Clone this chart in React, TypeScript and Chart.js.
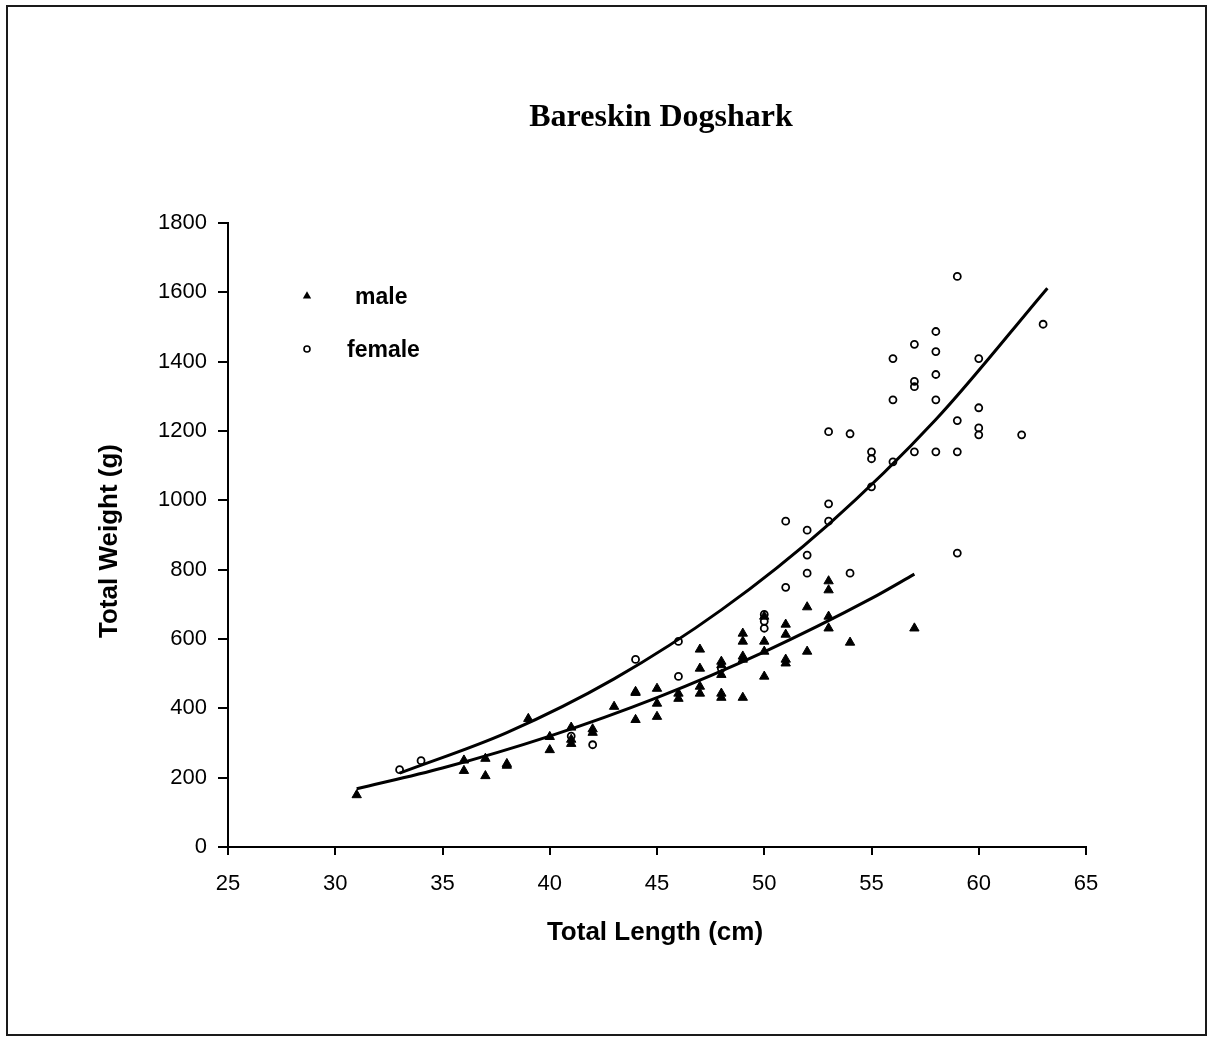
import React, { useEffect, useRef } from "react";
import { Chart, registerables } from "chart.js";

Chart.register(...registerables);

// Scatter data: male (filled triangles)
const maleLength = [31, 36, 36, 37, 37, 38, 38, 39, 40, 40, 41, 41, 41, 42, 42, 43, 44, 44, 44, 45, 45, 45, 46, 46, 47, 47, 47, 47, 48, 48, 48, 48, 48, 49, 49, 49, 49, 49, 50, 50, 50, 50, 51, 51, 51, 51, 52, 52, 53, 53, 53, 53, 54, 57];
const maleWeight = [150, 250, 220, 255, 205, 240, 235, 370, 318, 280, 345, 310, 298, 340, 330, 405, 448, 445, 367, 457, 414, 376, 443, 428, 570, 515, 463, 443, 535, 525, 497, 443, 431, 616, 593, 550, 541, 431, 665, 593, 564, 492, 642, 613, 541, 530, 692, 564, 767, 741, 665, 631, 590, 631];

// Scatter data: female (open circles)
const femaleLength = [33, 34, 41, 42, 44, 46, 46, 48, 50, 50, 50, 51, 51, 52, 52, 52, 53, 53, 53, 54, 54, 55, 55, 55, 56, 56, 56, 57, 57, 57, 57, 58, 58, 58, 58, 58, 59, 59, 59, 59, 60, 60, 60, 60, 62, 63];
const femaleWeight = [223, 249, 320, 295, 541, 593, 492, 515, 671, 651, 631, 940, 749, 914, 842, 790, 1198, 990, 940, 1192, 790, 1140, 1120, 1039, 1409, 1290, 1111, 1450, 1343, 1328, 1140, 1487, 1429, 1363, 1290, 1140, 1646, 1230, 1140, 848, 1409, 1267, 1209, 1189, 1189, 1508];

// Fitted curves
const maleFitLength = [31, 35, 40, 45, 50, 55, 57];
const maleFitWeight = [168, 228, 320, 431, 563, 717, 787];
const femaleFitLength = [33, 38, 43, 48, 53, 58, 63.2];
const femaleFitWeight = [213, 330, 485, 684, 931, 1233, 1612];

const xTicks = [25, 30, 35, 40, 45, 50, 55, 60, 65];
const yTicks = [0, 200, 400, 600, 800, 1000, 1200, 1400, 1600, 1800];

const chartTitle = "Bareskin Dogshark";
const xTitle = "Total Length (cm)";
const yTitle = "Total Weight (g)";
const legendLabels = ["male", "female"];

const toPoints = (xs: number[], ys: number[]) => xs.map((x, i) => ({ x, y: ys[i] }));

const decorPlugin = {
  id: "decor",
  afterDraw(chart: any) {
    const ctx = chart.ctx as CanvasRenderingContext2D;
    ctx.save();
    ctx.fillStyle = "#000";
    ctx.strokeStyle = "#000";
    // Title
    ctx.font = "bold 32px 'Liberation Serif', 'Times New Roman', serif";
    ctx.textAlign = "center";
    ctx.textBaseline = "alphabetic";
    ctx.fillText(chartTitle, 661, 126);
    // X axis title
    ctx.font = "bold 26px 'Liberation Sans', Arial, sans-serif";
    ctx.textBaseline = "middle";
    ctx.fillText(xTitle, 655, 933);
    // Y axis title
    ctx.save();
    ctx.translate(110, 541);
    ctx.rotate(-Math.PI / 2);
    ctx.fillText(yTitle, 0, 0);
    ctx.restore();
    // Legend
    ctx.font = "bold 23px 'Liberation Sans', Arial, sans-serif";
    ctx.textAlign = "left";
    ctx.textBaseline = "middle";
    ctx.beginPath();
    const tx = 307, ty = 296, tr = 4.8;
    ctx.moveTo(tx, ty - tr);
    ctx.lineTo(tx + tr * 0.866, ty + tr * 0.5);
    ctx.lineTo(tx - tr * 0.866, ty + tr * 0.5);
    ctx.closePath();
    ctx.fill();
    ctx.fillText(legendLabels[0], 355, 298);
    ctx.beginPath();
    ctx.lineWidth = 1.6;
    ctx.arc(307, 349, 3, 0, Math.PI * 2);
    ctx.stroke();
    ctx.fillText(legendLabels[1], 347, 351);
    ctx.restore();
  },
};

export default function App() {
  const canvasRef = useRef<HTMLCanvasElement | null>(null);

  useEffect(() => {
    const canvas = canvasRef.current;
    if (!canvas) return;
    const tickFont = { family: "'Liberation Sans', Arial, sans-serif", size: 22 };
    const chart = new Chart(canvas, {
      type: "scatter",
      data: {
        datasets: [
          {
            label: "male fit",
            data: toPoints(maleFitLength, maleFitWeight),
            showLine: true,
            borderColor: "#000",
            borderWidth: 3,
            pointRadius: 0,
            cubicInterpolationMode: "monotone",
            fill: false,
          } as any,
          {
            label: "female fit",
            data: toPoints(femaleFitLength, femaleFitWeight),
            showLine: true,
            borderColor: "#000",
            borderWidth: 3,
            pointRadius: 0,
            cubicInterpolationMode: "monotone",
            fill: false,
          } as any,
          {
            label: "male",
            data: toPoints(maleLength, maleWeight),
            pointStyle: "triangle",
            pointRadius: 5.4,
            backgroundColor: "#000",
            borderColor: "#000",
            borderWidth: 1,
          },
          {
            label: "female",
            data: toPoints(femaleLength, femaleWeight),
            pointStyle: "circle",
            pointRadius: 3.5,
            backgroundColor: "rgba(255,255,255,0)",
            borderColor: "#000",
            borderWidth: 1.8,
          },
        ],
      },
      options: {
        responsive: false,
        animation: false,
        events: [],
        layout: { padding: { left: 0, top: 223, right: 125, bottom: 121 } },
        plugins: {
          legend: { display: false },
          tooltip: { enabled: false },
          title: { display: false },
        },
        scales: {
          x: {
            type: "linear",
            min: 25,
            max: 65,
            afterFit: (scale: any) => {
              scale.height = 70;
            },
            afterBuildTicks: (scale: any) => {
              scale.ticks = xTicks.map((v) => ({ value: v }));
            },
            ticks: { color: "#000", font: tickFont, padding: 16, maxRotation: 0, callback: (v: any) => String(v) },
            grid: { display: true, drawOnChartArea: false, drawTicks: true, tickLength: 8, color: "#000", lineWidth: 2 },
            border: { display: true, color: "#000", width: 2 },
          },
          y: {
            type: "linear",
            min: 0,
            max: 1800,
            afterFit: (scale: any) => {
              scale.width = 228;
            },
            afterBuildTicks: (scale: any) => {
              scale.ticks = yTicks.map((v) => ({ value: v }));
            },
            ticks: { color: "#000", font: tickFont, padding: 11, callback: (v: any) => String(v) },
            grid: { display: true, drawOnChartArea: false, drawTicks: true, tickLength: 10, color: "#000", lineWidth: 2 },
            border: { display: true, color: "#000", width: 2 },
          },
        },
      },
      plugins: [decorPlugin],
    });
    return () => chart.destroy();
  }, []);

  return (
    <div style={{ position: "absolute", left: 0, top: 0, width: 1211, height: 1038, background: "#fff" }}>
      <div
        style={{
          position: "absolute",
          left: 6,
          top: 5,
          width: 1201,
          height: 1031,
          border: "2px solid #1a1a1a",
          boxSizing: "border-box",
        }}
      />
      <canvas ref={canvasRef} width={1211} height={1038} style={{ position: "absolute", left: 0, top: 0, width: 1211, height: 1038 }} />
    </div>
  );
}
